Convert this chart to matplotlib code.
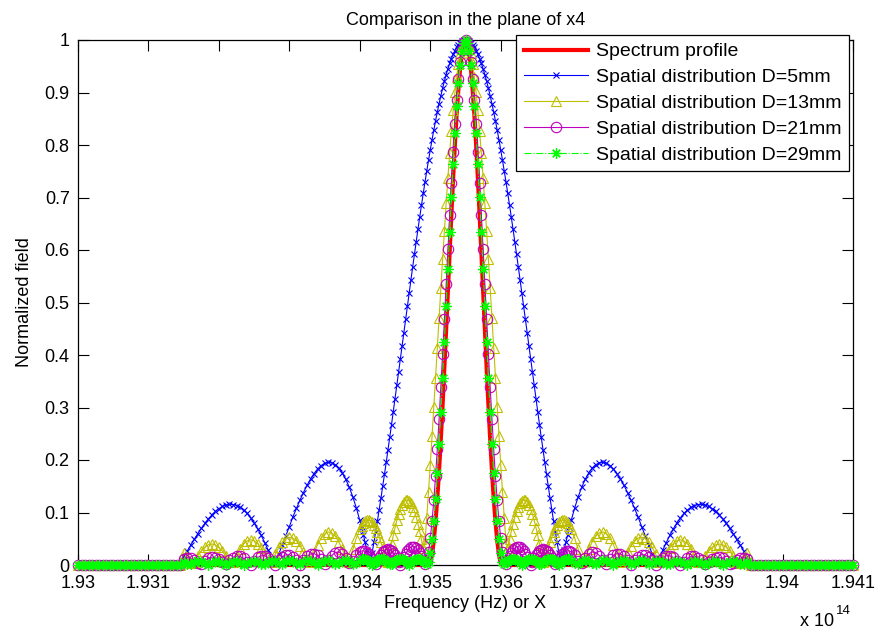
import numpy as np
import matplotlib
matplotlib.use("Agg")
import matplotlib.pyplot as plt

plt.rcParams['font.family'] = ['Liberation Sans', 'DejaVu Sans']

# ---- frequency sample grid (axis units of 1e14 Hz) ----
freq_left = np.linspace(1.930, 1.934, 81)
freq_mid = np.linspace(1.934025, 1.936975, 119)
freq_right = np.linspace(1.937, 1.941, 81)

x_tick_values = [1.930, 1.931, 1.932, 1.933, 1.934, 1.935, 1.936, 1.937, 1.938, 1.939, 1.940, 1.941]
x_tick_labels = ['1.93', '1.931', '1.932', '1.933', '1.934', '1.935', '1.936', '1.937', '1.938', '1.939', '1.94', '1.941']
y_tick_values = [0, 0.1, 0.2, 0.3, 0.4, 0.5, 0.6, 0.7, 0.8, 0.9, 1.0]
y_tick_labels = ['0', '0.1', '0.2', '0.3', '0.4', '0.5', '0.6', '0.7', '0.8', '0.9', '1']

series_labels = ['Spectrum profile', 'Spatial distribution D=5mm', 'Spatial distribution D=13mm',
                 'Spatial distribution D=21mm', 'Spatial distribution D=29mm']

# ---- Spectrum profile ----
spec_left = [0, 0, 0, 0, 0, 0, 0, 0, 0, 0, 0, 0, 0, 0, 0, 0, 0, 0, 0, 0,
             0, 0, 0, 0, 0, 0, 0, 0, 0, 0, 0, 0, 0, 0, 0, 0, 0, 0, 0, 0,
             0, 0, 0, 0, 0, 0, 0, 0, 0, 0, 0, 0, 0, 0, 0, 0, 0, 0, 0, 0,
             0, 0, 0, 0, 0, 0, 0, 0, 0, 0, 0, 0, 0, 0, 0, 0, 0, 0, 0, 0, 0]
spec_mid = [0, 0, 0, 0, 0, 0, 0, 0, 0, 0, 0, 0, 0, 0, 0, 0, 0, 0, 0, 0,
            0, 0, 0, 0, 0, 0, 0, 0, 0, 0, 0, 0, 0, 0, 0, 0, 0, 0, 0,
            .003, .020, .047, .084, .128, .181, .241, .306, .376, .448,
            .523, .597, .670, .739, .803, .860, .908, .948, .977, .994,
            1.0,
            .994, .977, .948, .908, .860, .803, .739, .670, .597, .523,
            .448, .376, .306, .241, .181, .128, .084, .047, .020, .003,
            0, 0, 0, 0, 0, 0, 0, 0, 0, 0, 0, 0, 0, 0, 0, 0, 0, 0, 0, 0,
            0, 0, 0, 0, 0, 0, 0, 0, 0, 0, 0, 0, 0, 0, 0, 0, 0, 0, 0]
spec_right = [0, 0, 0, 0, 0, 0, 0, 0, 0, 0, 0, 0, 0, 0, 0, 0, 0, 0, 0, 0,
              0, 0, 0, 0, 0, 0, 0, 0, 0, 0, 0, 0, 0, 0, 0, 0, 0, 0, 0, 0,
              0, 0, 0, 0, 0, 0, 0, 0, 0, 0, 0, 0, 0, 0, 0, 0, 0, 0, 0, 0,
              0, 0, 0, 0, 0, 0, 0, 0, 0, 0, 0, 0, 0, 0, 0, 0, 0, 0, 0, 0, 0]

# ---- D = 5 mm ----
d5_left = [0, 0, 0, 0, 0, 0, 0, 0, 0, 0, 0, 0, 0, 0, 0, 0, 0, 0, 0, 0, 0, 0, 0, 0, 0, 0, 0, 0, 0, 0,
           .0152, .0266, .0378, .0488, .0595, .0696, .0791, .0878, .0954, .1020,
           .1074, .1115, .1142, .1155, .1152, .1133, .1098, .1047, .0981, .0898,
           .0801, .0690, .0565, .0428, .0281, .0124, .0040, .0210, .0383, .0558,
           .0733, .0915, .1077, .1233, .1380, .1516, .1637, .1742, .1828, .1894,
           .1936, .1955, .1947, .1912, .1849, .1757, .1634, .1482, .1301, .1089,
           .0848]
d5_mid = [.0717, .0579, .0434, .0282, .0124, .0044, .0234, .0430, .0632, .0840,
          .1053, .1272, .1496, .1724, .1957, .2193, .2433, .2676, .2922, .3170,
          .3420, .3671, .3923, .4175, .4428, .4680, .4931, .5181, .5429, .5675,
          .5918, .6158, .6394, .6627, .6854, .7077, .7295, .7505, .7710, .7909,
          .8100, .8285, .8461, .8629, .8789, .8940, .9082, .9214, .9337, .9450,
          .9553, .9646, .9728, .9800, .9861, .9911, .9950, .9978, .9994,
          1.0,
          .9994, .9978, .9950, .9911, .9861, .9800, .9728, .9646, .9553,
          .9450, .9337, .9214, .9082, .8940, .8789, .8629, .8461, .8285, .8100,
          .7909, .7710, .7505, .7295, .7077, .6854, .6627, .6394, .6158, .5918,
          .5675, .5429, .5181, .4931, .4680, .4428, .4175, .3923, .3671, .3420,
          .3170, .2922, .2676, .2433, .2193, .1957, .1724, .1496, .1272, .1053,
          .0840, .0632, .0430, .0234, .0044, .0124, .0282, .0434, .0579, .0717]
d5_right = [.0848, .1089, .1301, .1482, .1634, .1757, .1849, .1912, .1947, .1955,
            .1936, .1894, .1828, .1742, .1637, .1516, .1380, .1233, .1077, .0915,
            .0733, .0558, .0383, .0210, .0040, .0124, .0281, .0428, .0565, .0690,
            .0801, .0898, .0981, .1047, .1098, .1133, .1152, .1155, .1142, .1115,
            .1074, .1020, .0954, .0878, .0791, .0696, .0595, .0488, .0378, .0266,
            .0152,
            0, 0, 0, 0, 0, 0, 0, 0, 0, 0, 0, 0, 0, 0, 0, 0, 0, 0, 0, 0, 0, 0, 0, 0, 0, 0, 0, 0, 0, 0]

# ---- D = 13 mm ----
d13_left = [0, 0, 0, 0, 0, 0, 0, 0, 0, 0, 0, 0, 0, 0, 0, 0, 0, 0, 0, 0, 0, 0, 0, 0, 0, 0, 0, 0, 0, 0,
            .0230, .0143, .0045, .0063, .0171, .0266, .0339, .0385, .0400, .0383,
            .0336, .0262, .0167, .0059, .0065, .0196, .0311, .0401, .0459, .0480,
            .0463, .0409, .0323, .0210, .0081, .0060, .0206, .0334, .0435, .0502,
            .0530, .0514, .0458, .0365, .0243, .0102, .0057, .0230, .0385, .0509,
            .0593, .0629, .0615, .0551, .0444, .0302, .0135, .0058, .0296, .0510,
            .0683]
d13_mid = [.0751, .0802, .0838, .0857, .0859, .0843, .0811, .0762, .0698, .0620,
           .0530, .0429, .0319, .0203, .0083, .0056, .0231, .0401, .0563, .0712,
           .0849, .0969, .1068, .1147, .1202, .1233, .1239, .1221, .1178, .1111,
           .1023, .0913, .0786, .0642, .0486, .0320, .0434, .0899, .1392, .1910,
           .2448, .3001, .3565, .4135, .4705, .5271, .5826, .6366, .6886, .7379,
           .7842, .8270, .8658, .9003, .9301, .9549, .9745, .9886, .9971,
           1.0,
           .9971, .9886, .9745, .9549, .9301, .9003, .8658, .8270, .7842,
           .7379, .6886, .6366, .5826, .5271, .4705, .4135, .3565, .3001, .2448,
           .1910, .1392, .0899, .0434, .0320, .0486, .0642, .0786, .0913, .1023,
           .1111, .1178, .1221, .1239, .1233, .1202, .1147, .1068, .0969, .0849,
           .0712, .0563, .0401, .0231, .0056, .0083, .0203, .0319, .0429, .0530,
           .0620, .0698, .0762, .0811, .0843, .0859, .0857, .0838, .0802, .0751]
d13_right = [.0683, .0510, .0296, .0058, .0135, .0302, .0444, .0551, .0615, .0629,
             .0593, .0509, .0385, .0230, .0057, .0102, .0243, .0365, .0458, .0514,
             .0530, .0502, .0435, .0334, .0206, .0060, .0081, .0210, .0323, .0409,
             .0463, .0480, .0459, .0401, .0311, .0196, .0065, .0059, .0167, .0262,
             .0336, .0383, .0400, .0385, .0339, .0266, .0171, .0063, .0045, .0143,
             .0230,
             0, 0, 0, 0, 0, 0, 0, 0, 0, 0, 0, 0, 0, 0, 0, 0, 0, 0, 0, 0, 0, 0, 0, 0, 0, 0, 0, 0, 0, 0]

# ---- D = 21 mm ----
d21_left = [0, 0, 0, 0, 0, 0, 0, 0, 0, 0, 0, 0, 0, 0, 0, 0, 0, 0, 0, 0, 0, 0, 0, 0, 0, 0, 0, 0, 0, 0,
            .0122, .0140, .0130, .0096, .0043, .0020, .0082, .0128, .0149, .0142,
            .0107, .0052, .0015, .0086, .0141, .0168, .0163, .0127, .0066, .0008,
            .0084, .0144, .0176, .0175, .0139, .0077, .0000, .0086, .0155, .0194,
            .0196, .0160, .0094, .0009, .0086, .0164, .0211, .0217, .0182, .0111,
            .0019, .0087, .0179, .0236, .0248, .0213, .0136, .0033, .0082, .0185,
            .0251]
d21_mid = [.0267, .0269, .0259, .0236, .0201, .0157, .0105, .0048, .0013, .0079,
           .0140, .0195, .0240, .0274, .0294, .0300, .0291, .0268, .0232, .0185,
           .0128, .0066, .0000, .0077, .0150, .0215, .0271, .0313, .0340, .0350,
           .0343, .0320, .0280, .0228, .0164, .0092, .0015, .0069, .0247, .0505,
           .0835, .1232, .1690, .2210, .2778, .3384, .4021, .4679, .5346, .6012,
           .6663, .7282, .7864, .8394, .8864, .9263, .9580, .9812, .9953,
           1.0,
           .9953, .9812, .9580, .9263, .8864, .8394, .7864, .7282, .6663,
           .6012, .5346, .4679, .4021, .3384, .2778, .2210, .1690, .1232, .0835,
           .0505, .0247, .0069, .0015, .0092, .0164, .0228, .0280, .0320, .0343,
           .0350, .0340, .0313, .0271, .0215, .0150, .0077, .0000, .0066, .0128,
           .0185, .0232, .0268, .0291, .0300, .0294, .0274, .0240, .0195, .0140,
           .0079, .0013, .0048, .0105, .0157, .0201, .0236, .0259, .0269, .0267]
d21_right = [.0251, .0185, .0082, .0033, .0136, .0213, .0248, .0236, .0179, .0087,
             .0019, .0111, .0182, .0217, .0211, .0164, .0086, .0009, .0094, .0160,
             .0196, .0194, .0155, .0086, .0000, .0077, .0139, .0175, .0176, .0144,
             .0084, .0008, .0066, .0127, .0163, .0168, .0141, .0086, .0015, .0052,
             .0107, .0142, .0149, .0128, .0082, .0020, .0043, .0096, .0130, .0140,
             .0122,
             0, 0, 0, 0, 0, 0, 0, 0, 0, 0, 0, 0, 0, 0, 0, 0, 0, 0, 0, 0, 0, 0, 0, 0, 0, 0, 0, 0, 0, 0]

# ---- D = 29 mm ----
d29_left = [0, 0, 0, 0, 0, 0, 0, 0, 0, 0, 0, 0, 0, 0, 0, 0, 0, 0, 0, 0, 0, 0, 0, 0, 0, 0, 0, 0, 0, 0,
            .0058, .0025, .0017, .0052, .0069, .0062, .0033, .0008, .0046, .0068,
            .0065, .0040, .0000, .0040, .0065, .0068, .0046, .0008, .0033, .0062,
            .0069, .0052, .0017, .0025, .0058, .0070, .0074, .0032, .0022, .0067,
            .0089, .0080, .0042, .0011, .0060, .0087, .0084, .0051, .0000, .0051,
            .0084, .0087, .0060, .0011, .0042, .0080, .0089, .0067, .0022, .0032,
            .0074]
d29_mid = [.0115, .0120, .0115, .0099, .0074, .0043, .0007, .0029, .0062, .0090,
           .0109, .0119, .0118, .0106, .0085, .0056, .0022, .0014, .0049, .0080,
           .0103, .0117, .0120, .0112, .0094, .0068, .0036, .0000, .0036, .0068,
           .0094, .0112, .0120, .0117, .0103, .0080, .0049, .0014, .0048, .0223,
           .0488, .0835, .1260, .1751, .2301, .2911, .3560, .4239, .4939, .5643,
           .6339, .7011, .7645, .8225, .8742, .9179, .9532, .9790, .9947,
           1.0,
           .9947, .9790, .9532, .9179, .8742, .8225, .7645, .7011, .6339,
           .5643, .4939, .4239, .3560, .2911, .2301, .1751, .1260, .0835, .0488,
           .0223, .0048, .0014, .0049, .0080, .0103, .0117, .0120, .0112, .0094,
           .0068, .0036, .0000, .0036, .0068, .0094, .0112, .0120, .0117, .0103,
           .0080, .0049, .0014, .0022, .0056, .0085, .0106, .0118, .0119, .0109,
           .0090, .0062, .0029, .0007, .0043, .0074, .0099, .0115, .0120, .0115]
d29_right = [.0074, .0032, .0022, .0067, .0089, .0080, .0042, .0011, .0060, .0087,
             .0084, .0051, .0000, .0051, .0084, .0087, .0060, .0011, .0042, .0080,
             .0089, .0067, .0022, .0032, .0074, .0070, .0058, .0025, .0017, .0052,
             .0069, .0062, .0033, .0008, .0046, .0068, .0065, .0040, .0000, .0040,
             .0065, .0068, .0046, .0008, .0033, .0062, .0069, .0052, .0017, .0025,
             .0058,
             0, 0, 0, 0, 0, 0, 0, 0, 0, 0, 0, 0, 0, 0, 0, 0, 0, 0, 0, 0, 0, 0, 0, 0, 0, 0, 0, 0, 0, 0]

freq = np.concatenate([freq_left, freq_mid, freq_right])
spectrum = spec_left + spec_mid + spec_right
d5 = d5_left + d5_mid + d5_right
d13 = d13_left + d13_mid + d13_right
d21 = d21_left + d21_mid + d21_right
d29 = d29_left + d29_mid + d29_right

# ---- figure ----
W, H = 879, 631
fig = plt.figure(figsize=(W / 100, H / 100), dpi=100)
ax = fig.add_axes([78 / W, 66 / H, 775 / W, 525 / H])

ax.plot(freq, spectrum, color='#FF0000', lw=3, label=series_labels[0], clip_on=False, zorder=2)
ax.plot(freq, d5, color='#0000FF', lw=0.8, marker='x', ms=5, mew=0.8,
        label=series_labels[1], clip_on=False, zorder=3)
ax.plot(freq, d13, color='#BFBF00', lw=0.8, marker='^', ms=7.5, mfc='none', mew=0.8,
        label=series_labels[2], clip_on=False, zorder=4)
ax.plot(freq, d21, color='#BF00BF', lw=0.8, marker='o', ms=7.5, mfc='none', mew=0.8,
        label=series_labels[3], clip_on=False, zorder=5)
ax.plot(freq, d29, color='#00FF00', lw=0.8, ls='-.', marker=(8, 2, 0), ms=7.5, mew=0.9,
        label=series_labels[4], clip_on=False, zorder=6)

ax.set_xlim(1.930, 1.941)
ax.set_ylim(0, 1)
ax.set_xticks(x_tick_values)
ax.set_xticklabels(x_tick_labels)
ax.set_yticks(y_tick_values)
ax.set_yticklabels(y_tick_labels)
ax.tick_params(direction='in', length=8, width=0.8, top=True, right=True,
               labelsize=13, colors='black')
ax.tick_params(axis='x', pad=7)
ax.tick_params(axis='y', pad=6)
for sp in ax.spines.values():
    sp.set_linewidth(0.9)
    sp.set_color('black')

ax.set_title('Comparison in the plane of x4', fontsize=13, pad=11)
ax.set_xlabel('Frequency (Hz) or X', fontsize=13, labelpad=2)
ax.set_ylabel('Normalized field', fontsize=13, labelpad=8)

fig.text(834 / W, 1 - 626 / H, 'x 10', fontsize=13, ha='right', va='baseline')
fig.text(836 / W, 1 - 614 / H, '14', fontsize=9.5, ha='left', va='baseline')

leg = ax.legend(loc='upper right', bbox_to_anchor=(849 / W, 1 - 35 / H),
                bbox_transform=fig.transFigure, borderaxespad=0, fancybox=False,
                framealpha=1, edgecolor='black', fontsize=14, handlelength=3.3,
                handletextpad=0.4, labelspacing=0.42, borderpad=0.4)
leg.get_frame().set_linewidth(0.9)
leg.set_zorder(10)

fig.savefig('out.png', dpi=100)
